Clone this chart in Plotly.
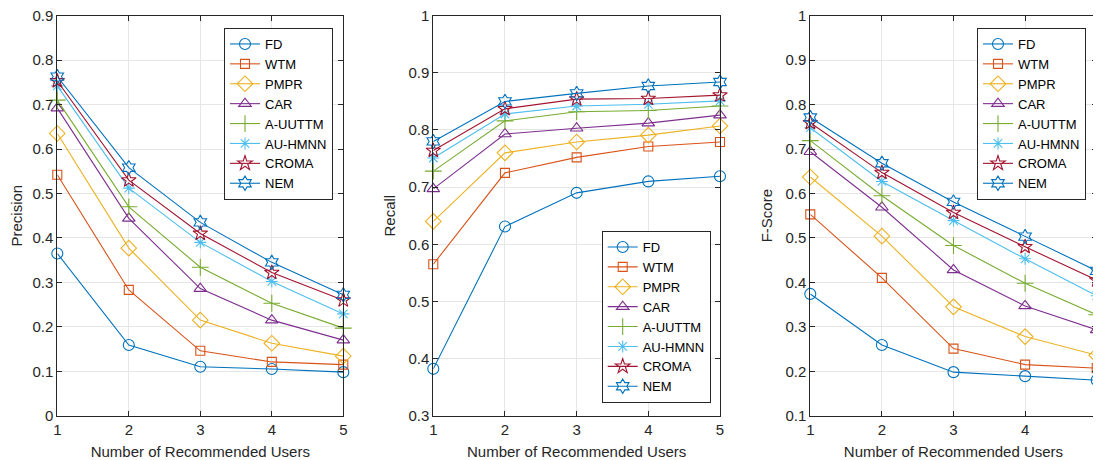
import plotly.graph_objects as go

x_users = [1, 2, 3, 4, 5]
methods = ["FD", "WTM", "PMPR", "CAR", "A-UUTTM", "AU-HMNN", "CROMA", "NEM"]

precision_FD = [0.365, 0.159, 0.110, 0.105, 0.098]
precision_WTM = [0.542, 0.283, 0.146, 0.121, 0.115]
precision_PMPR = [0.635, 0.377, 0.215, 0.163, 0.134]
precision_CAR = [0.692, 0.444, 0.286, 0.215, 0.170]
precision_AUUTTM = [0.710, 0.470, 0.334, 0.253, 0.197]
precision_AUHMNN = [0.742, 0.512, 0.390, 0.302, 0.229]
precision_CROMA = [0.753, 0.530, 0.410, 0.322, 0.260]
precision_NEM = [0.763, 0.558, 0.435, 0.345, 0.272]

recall_FD = [0.382, 0.631, 0.690, 0.710, 0.719]
recall_WTM = [0.565, 0.725, 0.752, 0.771, 0.779]
recall_PMPR = [0.640, 0.760, 0.779, 0.791, 0.807]
recall_CAR = [0.697, 0.793, 0.803, 0.812, 0.826]
recall_AUUTTM = [0.728, 0.816, 0.832, 0.834, 0.842]
recall_AUHMNN = [0.751, 0.828, 0.842, 0.845, 0.851]
recall_CROMA = [0.764, 0.837, 0.854, 0.855, 0.861]
recall_NEM = [0.780, 0.850, 0.864, 0.877, 0.884]

fscore_FD = [0.374, 0.259, 0.198, 0.189, 0.180]
fscore_WTM = [0.553, 0.410, 0.251, 0.215, 0.207]
fscore_PMPR = [0.637, 0.504, 0.345, 0.278, 0.236]
fscore_CAR = [0.694, 0.569, 0.428, 0.347, 0.293]
fscore_AUUTTM = [0.719, 0.595, 0.483, 0.398, 0.327]
fscore_AUHMNN = [0.748, 0.627, 0.539, 0.453, 0.370]
fscore_CROMA = [0.759, 0.647, 0.557, 0.480, 0.405]
fscore_NEM = [0.771, 0.668, 0.581, 0.503, 0.426]

precision = [precision_FD, precision_WTM, precision_PMPR, precision_CAR,
             precision_AUUTTM, precision_AUHMNN, precision_CROMA, precision_NEM]
recall = [recall_FD, recall_WTM, recall_PMPR, recall_CAR,
          recall_AUUTTM, recall_AUHMNN, recall_CROMA, recall_NEM]
fscore = [fscore_FD, fscore_WTM, fscore_PMPR, fscore_CAR,
          fscore_AUUTTM, fscore_AUHMNN, fscore_CROMA, fscore_NEM]

colors = ["#0072BD", "#D95319", "#EDB120", "#7E2F8E", "#77AC30", "#4DBEEE", "#A2142F", "#0072BD"]
symbols = ["circle-open", "square-open", "diamond-open", "triangle-up-open",
           "cross-thin-open", "asterisk-open", "star-open", "hexagram-open"]
sizes = [11, 9, 12, 11, 12, 10, 11, 11]

# page body has an 8px margin; figure sized to fit the 1101x460 window
OFF = 8
W, H = 1101 - OFF, 460 - OFF
FONT = "Liberation Sans, Arial, Helvetica, sans-serif"
AX = "#262626"

fig = go.Figure()

panels = [
    (precision, "x", "y", "legend"),
    (recall, "x2", "y2", "legend2"),
    (fscore, "x3", "y3", "legend3"),
]
for data, xa, ya, lg in panels:
    for i, name in enumerate(methods):
        fig.add_trace(go.Scatter(
            x=x_users, y=data[i], name=name, mode="lines+markers",
            xaxis=xa, yaxis=ya, legend=lg, cliponaxis=False,
            line=dict(color=colors[i], width=1.1),
            marker=dict(symbol=symbols[i], size=sizes[i], color=colors[i],
                        line=dict(color=colors[i], width=1.1)),
        ))

def px_x(p):
    return (p - OFF) / W

def px_y(p):
    return 1 - (p - OFF) / H

ydom = [px_y(415.7), px_y(15.7)]
xdoms = [[px_x(57.3), px_x(343.3)], [px_x(433.3), px_x(720.0)], [px_x(810.3), px_x(1096.7)]]
yranges = [[0, 0.9], [0.3, 1.0], [0.1, 1.0]]
ytitles = ["Precision", "Recall", "F-Score"]
yticks = [
    ([0, 0.1, 0.2, 0.3, 0.4, 0.5, 0.6, 0.7, 0.8, 0.9], ["0", "0.1", "0.2", "0.3", "0.4", "0.5", "0.6", "0.7", "0.8", "0.9"]),
    ([0.3, 0.4, 0.5, 0.6, 0.7, 0.8, 0.9, 1.0], ["0.3", "0.4", "0.5", "0.6", "0.7", "0.8", "0.9", "1"]),
    ([0.1, 0.2, 0.3, 0.4, 0.5, 0.6, 0.7, 0.8, 0.9, 1.0], ["0.1", "0.2", "0.3", "0.4", "0.5", "0.6", "0.7", "0.8", "0.9", "1"]),
]

layout = dict(
    width=W, height=H,
    margin=dict(l=0, r=0, t=0, b=0, autoexpand=False),
    paper_bgcolor="white", plot_bgcolor="white",
    font=dict(family=FONT, size=15, color=AX),
)

for k in range(3):
    sx = "" if k == 0 else str(k + 1)
    layout["xaxis" + sx] = dict(
        domain=xdoms[k], anchor="y" + sx, range=[1, 5], automargin=False,
        tickmode="array", tickvals=x_users, ticktext=[str(v) for v in x_users],
        showgrid=True, gridcolor="#E6E6E6", gridwidth=1,
        showline=True, linecolor=AX, linewidth=1, mirror="ticks",
        ticks="inside", ticklen=5, tickcolor=AX,
        zeroline=False, ticklabeloverflow="allow",
        tickfont=dict(size=15, color=AX, family=FONT),
        title=dict(text="Number of Recommended Users", font=dict(size=15, color=AX, family=FONT), standoff=10),
    )
    layout["yaxis" + sx] = dict(
        domain=ydom, anchor="x" + sx, range=yranges[k], automargin=False,
        tickmode="array", tickvals=yticks[k][0], ticktext=yticks[k][1],
        showgrid=True, gridcolor="#E6E6E6", gridwidth=1,
        showline=True, linecolor=AX, linewidth=1, mirror="ticks",
        ticks="inside", ticklen=5, tickcolor=AX,
        zeroline=False, ticklabeloverflow="allow",
        tickfont=dict(size=15, color=AX, family=FONT),
        title=dict(text=ytitles[k], font=dict(size=15, color=AX, family=FONT), standoff=9),
    )

legend_common = dict(
    bgcolor="white", bordercolor=AX, borderwidth=1,
    font=dict(size=13, color="black", family=FONT),
    itemwidth=30, tracegroupgap=0,
)
layout["legend"] = dict(x=px_x(224), y=px_y(28), xanchor="left", yanchor="top", **legend_common)
layout["legend2"] = dict(x=px_x(601.7), y=px_y(403), xanchor="left", yanchor="bottom", **legend_common)
layout["legend3"] = dict(x=px_x(977), y=px_y(28), xanchor="left", yanchor="top", **legend_common)
layout["showlegend"] = True

fig.update_layout(**layout)
fig.write_html("out.html")
